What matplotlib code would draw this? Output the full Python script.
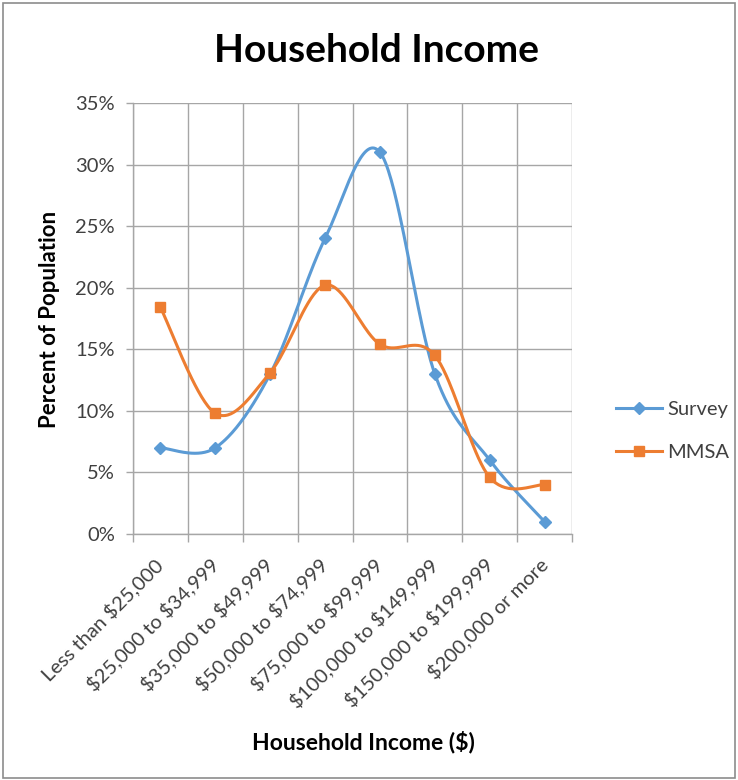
import numpy as np
import matplotlib
matplotlib.use("Agg")
import matplotlib.pyplot as plt
from matplotlib.patches import Rectangle

categories = ["Less than $25,000", "$25,000 to $34,999", "$35,000 to $49,999",
              "$50,000 to $74,999", "$75,000 to $99,999", "$100,000 to $149,999",
              "$150,000 to $199,999", "$200,000 or more"]
survey = [0.07, 0.07, 0.13, 0.24, 0.31, 0.13, 0.06, 0.01]
mmsa = [0.184, 0.098, 0.131, 0.202, 0.154, 0.145, 0.046, 0.040]
y_ticks = [0.0, 0.05, 0.10, 0.15, 0.20, 0.25, 0.30, 0.35]

plt.rcParams['font.family'] = ['Lato', 'DejaVu Sans']
plt.rcParams['text.parse_math'] = False

BLUE = "#5B9BD5"
ORANGE = "#ED7D31"
GRID = "#A6A6A6"
TEXT = "#404040"


def smooth(xs, ys, n=40):
    """Bezier smoothing through the points (control points from neighbours)."""
    xs = np.asarray(xs, float)
    ys = np.asarray(ys, float)
    px = np.concatenate([[xs[0]], xs, [xs[-1]]])
    py = np.concatenate([[ys[0]], ys, [ys[-1]]])
    out_x, out_y = [], []
    t = np.linspace(0, 1, n)
    for i in range(1, len(px) - 2):
        p0 = np.array([px[i], py[i]])
        p3 = np.array([px[i + 1], py[i + 1]])
        c1 = p0 + (np.array([px[i + 1], py[i + 1]]) - np.array([px[i - 1], py[i - 1]])) / 6
        c2 = p3 - (np.array([px[i + 2], py[i + 2]]) - np.array([px[i], py[i]])) / 6
        b = ((1 - t) ** 3)[:, None] * p0 + (3 * (1 - t) ** 2 * t)[:, None] * c1 \
            + (3 * (1 - t) * t ** 2)[:, None] * c2 + (t ** 3)[:, None] * p3
        out_x.extend(b[:, 0])
        out_y.extend(b[:, 1])
    return out_x, out_y


fig = plt.figure(figsize=(7.38, 7.8), dpi=100)
ax = fig.add_axes([133 / 738, 1 - 534 / 780, (572 - 133) / 738, (534 - 103) / 780])

x = np.arange(len(categories))
for vals, color, marker, ms, label in [(survey, BLUE, "D", 6, "Survey"),
                                        (mmsa, ORANGE, "s", 7, "MMSA")]:
    sx, sy = smooth(x, vals)
    ax.plot(sx, sy, color=color, lw=2.2, solid_capstyle="round", zorder=3)
    ax.plot(x, vals, linestyle="none", marker=marker, ms=ms, color=color, zorder=4)
    ax.plot([], [], color=color, lw=2.2, marker=marker, ms=ms, label=label)

ax.set_xlim(-0.5, len(categories) - 0.5)
ax.set_ylim(0, 0.35)
ax.set_yticks(y_ticks)
ax.set_yticklabels([f"{int(round(v * 100))}%" for v in y_ticks], fontsize=14.5, color=TEXT)
ax.set_xticks(x)
ax.set_xticklabels(categories, rotation=45, ha="right", va="center",
                   rotation_mode="anchor", fontsize=14.5, color=TEXT)
ax.set_xticks(np.arange(-0.5, len(categories), 1.0), minor=True)
ax.tick_params(axis="x", which="major", length=0, pad=20)
ax.tick_params(axis="x", which="minor", length=6, color=GRID, width=1)
ax.tick_params(axis="y", length=5, color=GRID, width=1, pad=8)
ax.grid(axis="y", which="major", color=GRID, lw=1)
ax.grid(axis="x", which="minor", color=GRID, lw=1)
ax.set_axisbelow(True)
for s in ["top", "right"]:
    ax.spines[s].set_visible(False)
for s in ["left", "bottom"]:
    ax.spines[s].set_color(GRID)
    ax.spines[s].set_linewidth(1)

fig.text(50 / 738, 1 - 319 / 780, "Percent of Population", fontsize=16,
         fontweight="bold", rotation=90, ha="center", va="center")
fig.text(363 / 738, 1 - 742 / 780, "Household Income ($)", fontsize=16.5,
         fontweight="bold", ha="center", va="center")
fig.text(376 / 738, 1 - 50 / 780, "Household Income", fontsize=28,
         fontweight="bold", ha="center", va="center")

leg = fig.legend(loc="center left", bbox_to_anchor=(598 / 738, 1 - 431 / 780),
                 frameon=False, fontsize=14.5, handlelength=2.3, labelspacing=1.25,
                 handletextpad=0.25, labelcolor=TEXT)

fig.add_artist(Rectangle((0.004, 0.003), 0.992, 0.993, transform=fig.transFigure,
                         fill=False, edgecolor="#8C8C8C", lw=1.2))

fig.savefig("out.png", dpi=100, facecolor="white")
